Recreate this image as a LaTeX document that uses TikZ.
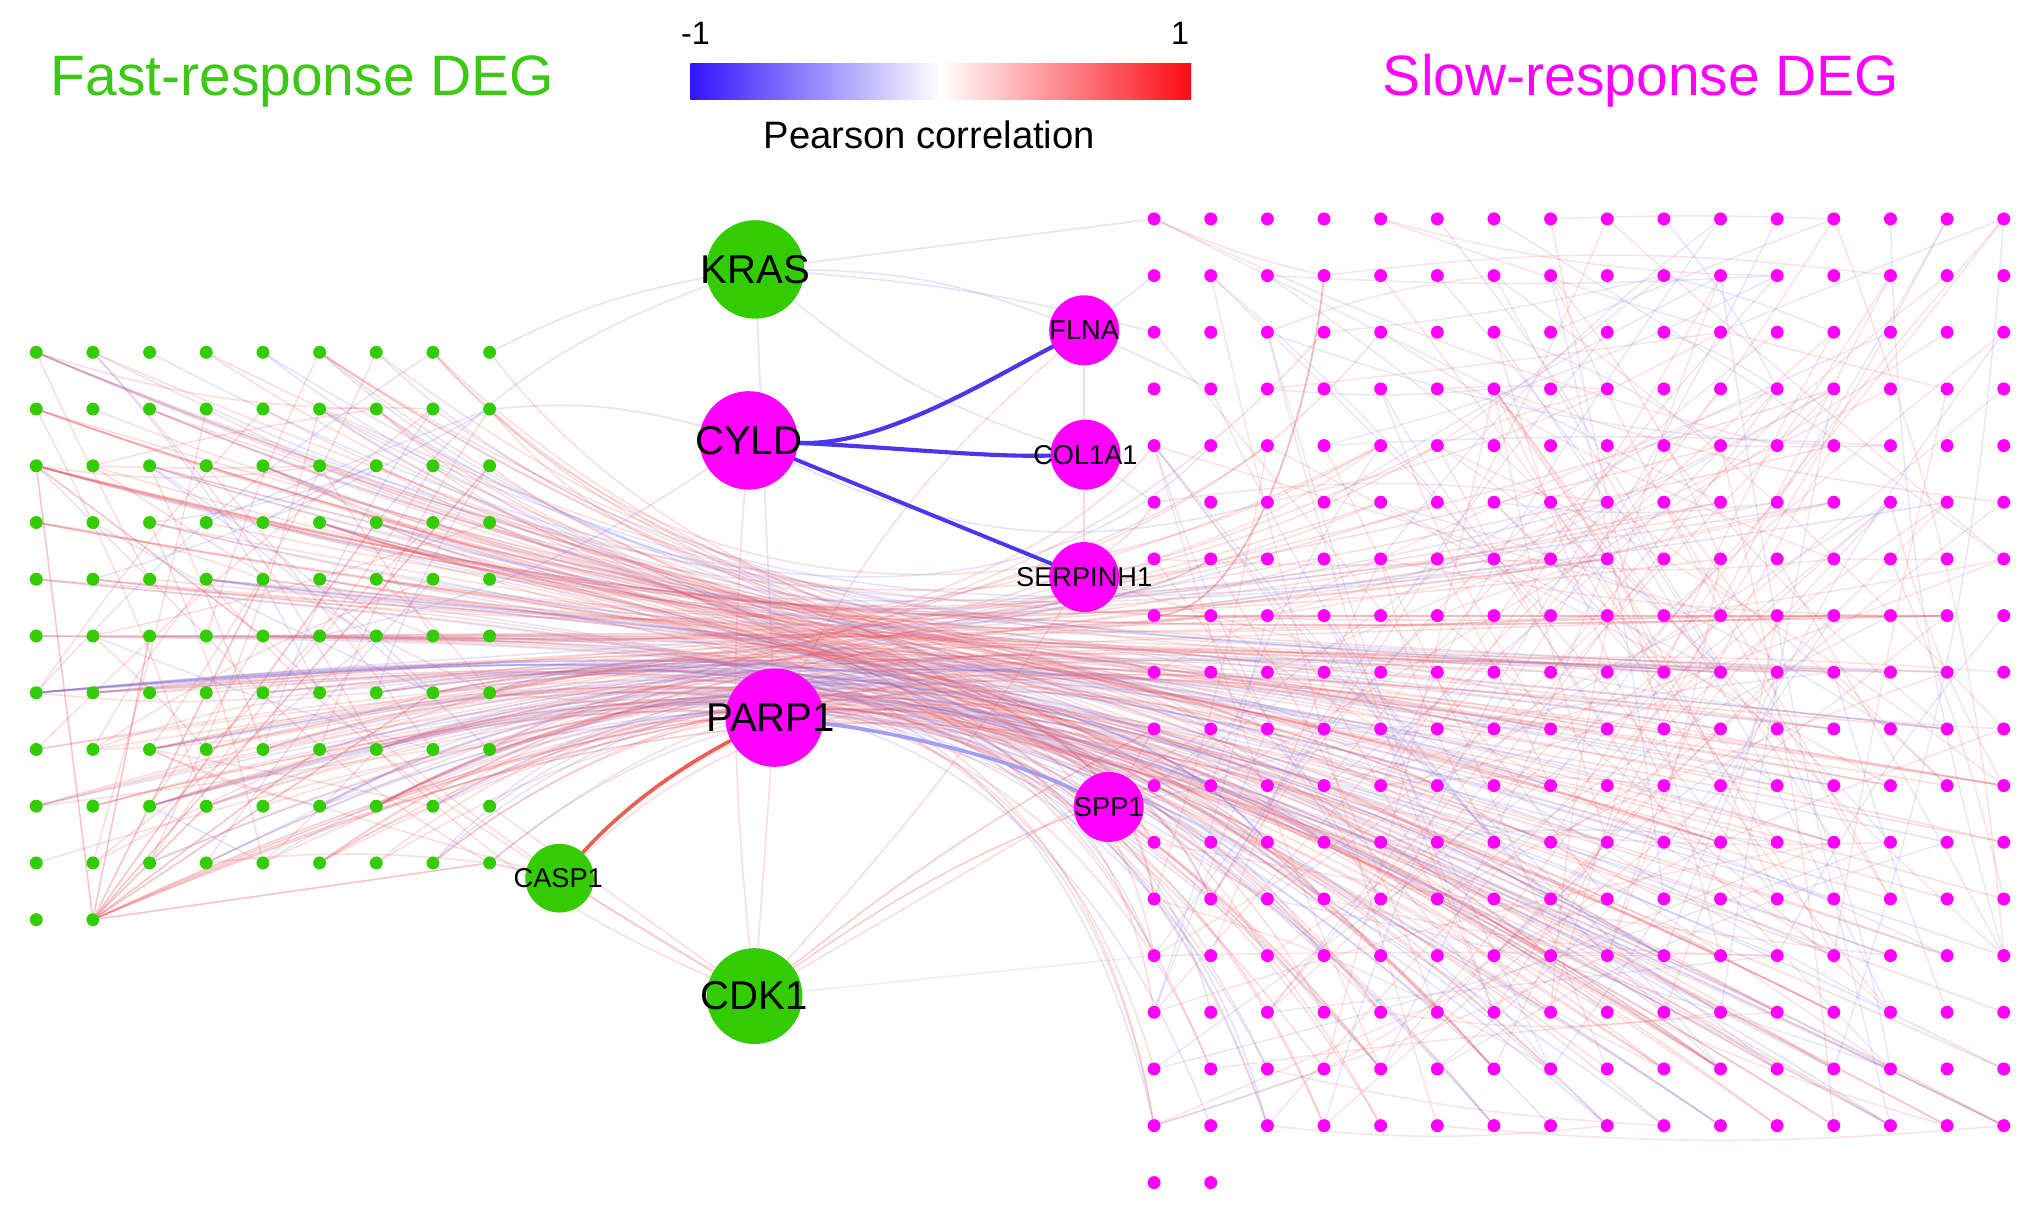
\documentclass[tikz,border=0pt]{standalone}
\usepackage{fontspec}
\setmainfont{Liberation Sans}
\usetikzlibrary{backgrounds}
\definecolor{ngreen}{RGB}{51,204,0}
\definecolor{nmag}{RGB}{255,0,255}
\definecolor{tgreen}{RGB}{60,200,20}
\definecolor{cbblue}{RGB}{50,20,250}
\definecolor{cbred}{RGB}{252,10,20}
\definecolor{ered}{RGB}{232,85,95}
\definecolor{eblue}{RGB}{120,115,235}
\definecolor{thickblue}{RGB}{75,55,235}
\definecolor{lavblue}{RGB}{160,158,240}
\definecolor{salmon}{RGB}{232,95,85}
\tikzset{
  gdot/.style={circle,fill=ngreen,inner sep=0pt,minimum size=10pt},
  mdot/.style={circle,fill=nmag,inner sep=0pt,minimum size=10pt},
  hubg/.style={circle,fill=ngreen,inner sep=0pt,minimum size=#1},
  hubm/.style={circle,fill=nmag,inner sep=0pt,minimum size=#1},
  biglabel/.style={font=\fontsize{31}{34}\selectfont,text=black,inner sep=0pt},
  smalllabel/.style={font=\fontsize{21}{24}\selectfont,text=black,inner sep=0pt},
  edge/.style={line width=1.2pt,opacity=0.2},
  strongedge/.style={line width=1.4pt,opacity=0.45},
  thickedge/.style={line width=#1,line cap=round},
}
\begin{document}
\begin{tikzpicture}[x=1pt,y=-1pt]
\useasboundingbox (0,0) rectangle (1568,932);

% titles
\node[anchor=base,text=tgreen,font=\fontsize{44}{50}\selectfont,inner sep=0pt] (fasttitle) at (233.4,73.4) {Fast-response DEG};
\node[anchor=base,text=nmag,font=\fontsize{44}{50}\selectfont,inner sep=0pt] (slowtitle) at (1267,73.4) {Slow-response DEG};

% colour bar
\shade[left color=cbblue,right color=white] (533,49) rectangle (726.5,77);
\shade[left color=white,right color=cbred] (726,49) rectangle (919.5,77);
\node[anchor=base,font=\fontsize{25}{28}\selectfont,inner sep=0pt] (cbmin) at (537,34.7) {-1};
\node[anchor=base,font=\fontsize{25}{28}\selectfont,inner sep=0pt] (cbmax) at (911,34.7) {1};
\node[anchor=base,font=\fontsize{29.5}{34}\selectfont,inner sep=0pt] (cblabel) at (717.5,114.5) {Pearson correlation};

% green grid
\foreach \i in {0,...,8}{\foreach \j in {0,...,9}{
  \node[gdot] (g-\i-\j) at ({28+43.75*\i},{272+43.8*\j}) {};}}
\node[gdot] (g-0-10) at (28,710) {};
\node[gdot] (g-1-10) at (71.75,710) {};

% magenta grid
\foreach \i in {0,...,15}{\foreach \j in {0,...,16}{
  \node[mdot] (m-\i-\j) at ({891+43.73*\i},{169+43.75*\j}) {};}}
\node[mdot] (m-0-17) at (891,913) {};
\node[mdot] (m-1-17) at (934.73,913) {};

% hubs
\node[hubg=76pt] (kras) at (583,208) {};
\node[hubm=76pt] (cyld) at (578,340) {};
\node[hubm=76pt] (parp1) at (598,554) {};
\node[hubg=74pt] (cdk1) at (582.5,769) {};
\node[hubg=53pt] (casp1) at (432,678) {};
\node[hubm=54pt] (flna) at (837,255) {};
\node[hubm=54pt] (col1a1) at (838,351) {};
\node[hubm=54pt] (serpinh1) at (837,445.5) {};
\node[hubm=54pt] (spp1) at (856,623) {};

\node[biglabel] (kras-l) at (kras) {KRAS};
\node[biglabel] (cyld-l) at (cyld) {CYLD};
\node[biglabel] (parp1-l) at (595,554) {PARP1};
\node[biglabel] (cdk1-l) at (cdk1) {CDK1};
\node[smalllabel] (casp1-l) at (431,678) {CASP1};
\node[smalllabel] (flna-l) at (flna) {FLNA};
\node[smalllabel] (col1a1-l) at (838,351) {COL1A1};
\node[smalllabel] (serpinh1-l) at (837,445.5) {SERPINH1};
\node[smalllabel] (spp1-l) at (856,623) {SPP1};

\begin{pgfonlayer}{background}
\fill[white] (0,0) rectangle (1568,932);

% bundled edges: fast -> slow
\pgfmathsetseed{2024}
\foreach \k in {1,...,250}{%
  \pgfmathtruncatemacro{\gi}{random(0,8)}%
  \pgfmathtruncatemacro{\gj}{random(0,9)}%
  \pgfmathtruncatemacro{\mi}{random(0,15)}%
  \pgfmathtruncatemacro{\mj}{max(random(0,16),random(2,16))}%
  \pgfmathsetmacro{\ax}{490+random(0,110)}%
  \pgfmathsetmacro{\ay}{486+random(0,18)}%
  \pgfmathsetmacro{\bx}{min(770+random(0,110),881+43.73*\mi)}%
  \pgfmathsetmacro{\by}{484+random(0,18)}%
  \pgfmathtruncatemacro{\cc}{random(1,10)}%
  \ifnum\cc>7\relax\def\ecol{eblue}\else\def\ecol{ered}\fi
  \draw[edge,draw=\ecol] (g-\gi-\gj) .. controls (\ax,\ay) and (\bx,\by) .. (m-\mi-\mj);
}

% edges inside the slow-response grid
\foreach \k in {1,...,220}{%
  \pgfmathtruncatemacro{\eA}{random(0,15)}%
  \pgfmathtruncatemacro{\eB}{random(0,16)}%
  \pgfmathtruncatemacro{\eC}{mod(\eA+random(2,14),16)}%
  \pgfmathtruncatemacro{\eD}{random(0,16)}%
  \pgfmathtruncatemacro{\bb}{random(0,16)-8}%
  \pgfmathtruncatemacro{\cc}{random(1,10)}%
  \ifnum\cc>6\relax\def\ecol{eblue}\else\def\ecol{ered}\fi
  \draw[edge,opacity=0.16,draw=\ecol] (m-\eA-\eB) to[bend left=\bb] (m-\eC-\eD);
}

% edges inside the fast-response grid
\foreach \k in {1,...,60}{%
  \pgfmathtruncatemacro{\eA}{random(0,8)}%
  \pgfmathtruncatemacro{\eB}{random(0,9)}%
  \pgfmathtruncatemacro{\eC}{mod(\eA+random(2,7),9)}%
  \pgfmathtruncatemacro{\eD}{random(0,9)}%
  \pgfmathtruncatemacro{\bb}{random(0,16)-8}%
  \pgfmathtruncatemacro{\cc}{random(1,10)}%
  \ifnum\cc>8\relax\def\ecol{eblue}\else\def\ecol{ered}\fi
  \draw[edge,draw=\ecol] (g-\eA-\eB) to[bend left=\bb] (g-\eC-\eD);
}

% fans from the lower-left dot and the left dot of row three
\foreach \t in {g-4-4,g-5-7,g-8-9,g-3-8,g-6-3,g-2-5,g-7-6,g-8-2}{
  \draw[edge,draw=ered,opacity=0.35] (g-1-10) -- (\t);}
\foreach \t/\u in {m-3-12/520,m-8-9/540,m-12-14/560,m-5-10/580}{
  \draw[edge,draw=ered,opacity=0.3] (g-1-10) .. controls (\u,500) and (840,495) .. (\t);}
\foreach \t/\u in {m-14-7/540,m-10-11/560,m-6-9/520}{
  \draw[strongedge,draw=ered,opacity=0.35] (g-0-2) .. controls (\u,495) and (840,490) .. (\t);}
\draw[edge,draw=ered,opacity=0.35] (g-0-2) -- (g-1-10);
\draw[edge,draw=ered,opacity=0.35] (g-0-2) -- (g-4-5);
\foreach \t/\u in {m-9-13/540,m-2-11/520}{
  \draw[edge,draw=eblue,opacity=0.4] (g-0-6) .. controls (\u,492) and (840,492) .. (\t);}
\draw[strongedge,draw=ered,opacity=0.4] (m-3-1) .. controls (1010,330) and (960,470) .. (m-0-7);
\draw[strongedge,draw=ered,opacity=0.4] (m-0-7) -- (m-14-7);

% hub edges
\draw[edge,draw=eblue] (kras) to[bend right=8] (g-8-0);
\draw[edge,draw=eblue] (kras) to[bend left=10] (flna);
\draw[edge,draw=eblue] (kras) -- (m-0-0);
\draw[edge,draw=eblue] (kras) to[bend left=5] (m-0-2);
\draw[edge,draw=eblue] (kras) -- (parp1);
\draw[edge,draw=eblue] (kras) to[bend right=10] (col1a1);
\draw[edge,draw=eblue] (kras) to[bend right=15] (g-6-3);
\draw[edge,draw=eblue] (cyld) to[bend right=10] (g-8-1);
\draw[edge,draw=eblue] (cyld) to[bend left=10] (g-5-5);
\draw[edge,draw=eblue] (cyld) to[bend right=20] (m-2-5);
\draw[edge,draw=ered] (cyld) to[bend right=5] (cdk1);
\draw[edge,draw=eblue] (flna) -- (m-0-1);
\draw[edge,draw=eblue] (flna) -- (m-1-3);
\draw[edge,draw=ered] (flna) -- (serpinh1);
\draw[edge,draw=ered] (flna) to[bend right=10] (parp1);
\draw[edge,draw=eblue] (col1a1) -- (m-0-5);
\draw[edge,draw=ered] (serpinh1) -- (m-1-7);
\draw[edge,draw=ered] (cdk1) -- (casp1);
\draw[edge,draw=ered] (cdk1) -- (parp1);
\draw[edge,draw=ered,opacity=0.3] (cdk1) to[bend left=5] (m-0-9);
\draw[edge,draw=ered,opacity=0.3] (cdk1) to[bend left=8] (m-0-10);
\draw[edge,draw=ered] (cdk1) -- (g-8-8);
\draw[edge,draw=ered] (cdk1) to[bend left=10] (g-6-7);
\draw[edge,draw=ered] (cdk1) -- (m-1-9);
\draw[edge,draw=eblue,opacity=0.12] (cdk1) -- (m-0-13);
\draw[edge,draw=ered] (cdk1) to[bend right=4] (serpinh1);
\draw[edge,draw=ered] (cdk1) to[bend left=6] (g-4-5);
\draw[edge,draw=ered,opacity=0.3] (casp1) -- (g-8-9);
\draw[edge,draw=ered] (casp1) -- (g-5-8);
\draw[edge,draw=ered] (casp1) to[bend left=8] (g-3-4);
\draw[edge,draw=ered] (casp1) .. controls (600,500) and (850,495) .. (m-4-10);
\draw[edge,draw=ered] (casp1) .. controls (620,500) and (860,500) .. (m-7-12);
\draw[edge,draw=ered] (parp1) to[bend left=10] (m-0-8);
\draw[edge,draw=ered] (parp1) -- (g-8-6);
\draw[edge,draw=ered] (spp1) -- (m-0-9);
\draw[edge,draw=ered] (spp1) -- (m-2-12);
\draw[edge,draw=eblue] (spp1) -- (m-1-10);

% strong edges
\draw[thickedge=3.2pt,draw=thickblue] (cyld) .. controls (680,345) and (760,295) .. (flna);
\draw[thickedge=3.2pt,draw=thickblue] (cyld) .. controls (700,346) and (760,353) .. (col1a1);
\draw[thickedge=3pt,draw=thickblue] (cyld) -- (serpinh1);
\draw[thickedge=2.8pt,draw=lavblue] (parp1) .. controls (690,565) and (780,585) .. (spp1);
\draw[thickedge=2.8pt,draw=salmon] (casp1) .. controls (480,625) and (520,595) .. (parp1);
\end{pgfonlayer}
\end{tikzpicture}
\end{document}
